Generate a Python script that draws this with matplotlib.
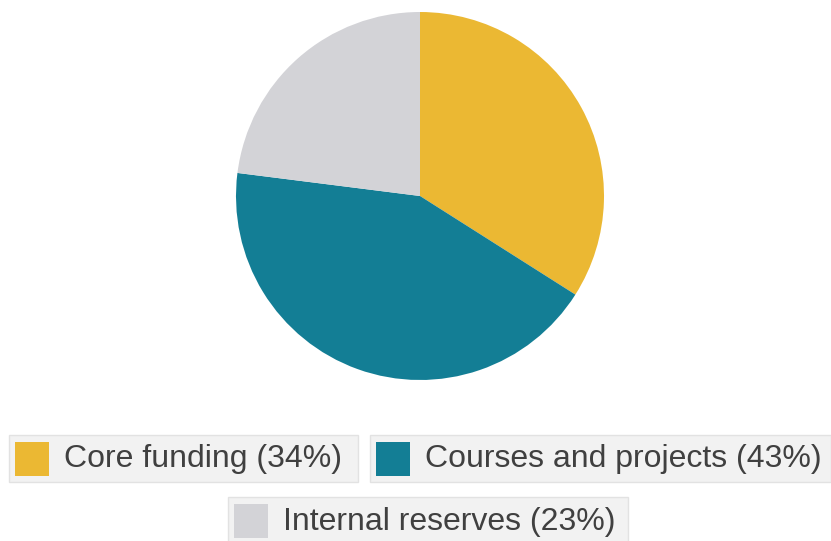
import matplotlib.pyplot as plt
from matplotlib.patches import Rectangle

# Data
labels = ["Core funding", "Courses and projects", "Internal reserves"]
shares = [34, 43, 23]
colors = ["#EBB833", "#137E95", "#D3D3D7"]

W, H = 831, 541
fig = plt.figure(figsize=(W / 100, H / 100), dpi=100)

# Pie placed by pixel box: centre (420, 196), radius 184
cx, cy, r = 420, 196, 184
ax = fig.add_axes([(cx - r) / W, (H - cy - r) / H, 2 * r / W, 2 * r / H])
ax.pie(shares, colors=colors, startangle=90, counterclock=False,
       wedgeprops=dict(linewidth=0))
ax.set_xlim(-1, 1)
ax.set_ylim(-1, 1)
ax.set_axis_off()

# Legend drawn on an overlay in pixel coordinates
lg = fig.add_axes([0, 0, 1, 1], zorder=-1)
lg.set_xlim(0, W)
lg.set_ylim(H, 0)
lg.set_axis_off()

# (box left, box top, box right, box bottom) for each entry
boxes = [(9, 435, 358, 482), (370, 435, 831, 482), (228, 497, 628, 545)]
for (x0, y0, x1, y1), lab, val, col in zip(boxes, labels, shares, colors):
    lg.add_patch(Rectangle((x0, y0), x1 - x0, y1 - y0, facecolor="#F2F2F2",
                           edgecolor="#E2E2E2", linewidth=1))
    mid = (y0 + y1) / 2
    lg.add_patch(Rectangle((x0 + 6, mid - 17), 34, 34, facecolor=col,
                           edgecolor="none"))
    lg.text(x0 + 55, mid + 1, f"{lab} ({val}%)", fontsize=23,
            family="Liberation Sans", color="#404040", va="center", ha="left")

fig.savefig("out.png", dpi=100)
